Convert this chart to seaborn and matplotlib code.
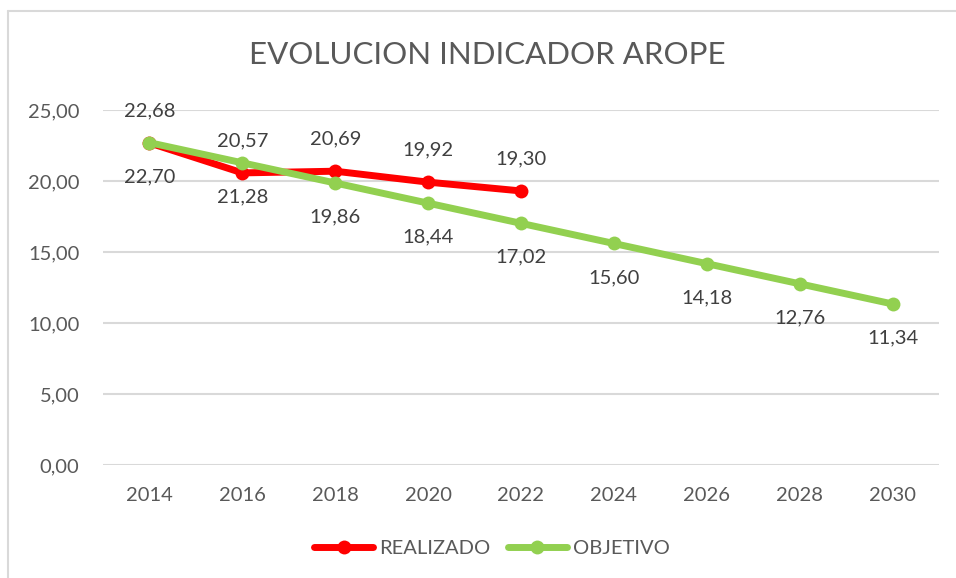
import matplotlib
matplotlib.use("Agg")
import matplotlib.pyplot as plt
from matplotlib.lines import Line2D
import seaborn as sns
import pandas as pd

# data
years_real = [2014, 2016, 2018, 2020, 2022]
realizado = [22.68, 20.57, 20.69, 19.92, 19.30]
years_obj = [2014, 2016, 2018, 2020, 2022, 2024, 2026, 2028, 2030]
objetivo = [22.70, 21.28, 19.86, 18.44, 17.02, 15.60, 14.18, 12.76, 11.34]
yticks = [0, 5, 10, 15, 20, 25]

RED = "#FF0000"
GREEN = "#92D050"
TXT = "#595959"

sns.set_theme(style="white")
plt.rcParams["font.family"] = ["Lato", "DejaVu Sans"]

W, H = 956, 578
fig = plt.figure(figsize=(W / 100, H / 100), dpi=100)
ax = fig.add_axes([103 / W, 1 - 465 / H, (939 - 103) / W, (465 - 110) / H])

df_r = pd.DataFrame({"year": years_real, "value": realizado})
df_o = pd.DataFrame({"year": years_obj, "value": objetivo})

sns.lineplot(data=df_r, x="year", y="value", ax=ax, color=RED, lw=5,
             marker="o", markersize=10, markeredgewidth=0, zorder=3)
sns.lineplot(data=df_o, x="year", y="value", ax=ax, color=GREEN, lw=5,
             marker="o", markersize=10, markeredgewidth=0, zorder=4)

def fmt(v):
    return f"{v:.2f}".replace(".", ",")

for x, v in zip(years_real, realizado):
    ax.annotate(fmt(v), (x, v), xytext=(0, 32), textcoords="offset pixels",
                ha="center", va="center", fontsize=14.5, color="#404040")
for x, v in zip(years_obj, objetivo):
    ax.annotate(fmt(v), (x, v), xytext=(0, -34), textcoords="offset pixels",
                ha="center", va="center", fontsize=14.5, color="#404040")

ax.set_xlim(2013, 2031)
ax.set_ylim(0, 25)
ax.set_xticks(years_obj)
ax.set_xticklabels([str(y) for y in years_obj])
ax.set_yticks(yticks)
ax.set_yticklabels([fmt(v) for v in yticks])
ax.tick_params(axis="both", length=0, labelsize=14.5, colors=TXT)
ax.tick_params(axis="y", pad=17)
ax.tick_params(axis="x", pad=16)
ax.yaxis.grid(True, color="#D9D9D9", lw=1.5)
ax.set_axisbelow(True)
for s in ax.spines.values():
    s.set_visible(False)
ax.set_xlabel("")
ax.set_ylabel("")

fig.text(487 / W, 1 - 55 / H, "EVOLUCION INDICADOR AROPE", ha="center",
         va="center", fontsize=22.5, color=TXT)

handles = [
    Line2D([], [], color=RED, lw=5, marker="o", markersize=10, markeredgewidth=0),
    Line2D([], [], color=GREEN, lw=5, marker="o", markersize=10, markeredgewidth=0),
]
fig.legend(handles, ["REALIZADO", "OBJETIVO"], loc="center",
           bbox_to_anchor=(492 / W, 1 - 548 / H), ncol=2, frameon=False,
           fontsize=14.5, labelcolor=TXT, handlelength=2.9,
           handletextpad=0.3, columnspacing=0.9)

# chart frame (top and left edges visible)
fig.add_artist(Line2D([7.5 / W, 7.5 / W], [0, 1 - 11 / H], color="#D9D9D9",
                      lw=1.5, transform=fig.transFigure))
fig.add_artist(Line2D([7.5 / W, 1], [1 - 11 / H, 1 - 11 / H], color="#D9D9D9",
                      lw=1.5, transform=fig.transFigure))

fig.savefig("out.png", dpi=100, facecolor="white")
